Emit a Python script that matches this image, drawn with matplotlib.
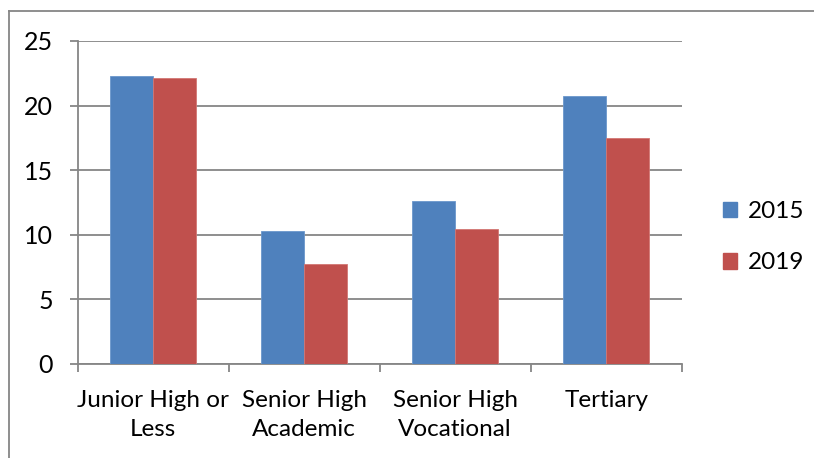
import numpy as np
import matplotlib.pyplot as plt
from matplotlib.patches import Patch
from matplotlib.lines import Line2D

plt.rcParams['font.family'] = ['Lato', 'DejaVu Sans']

categories = ['Junior High or\nLess', 'Senior High\nAcademic', 'Senior High\nVocational', 'Tertiary']
years = ['2015', '2019']
vals_2015 = [22.3, 10.3, 12.6, 20.7]
vals_2019 = [22.1, 7.7, 10.4, 17.5]

blue = '#4F81BD'
red = '#C0504D'
grid_col = '#868686'

fig = plt.figure(figsize=(8.14, 4.58), dpi=100)
ax = fig.add_axes([0.0955, 0.206, 0.742, 0.7045])

x = np.arange(len(categories))
w = 0.285
ax.bar(x - w / 2, vals_2015, w, color=blue, edgecolor='#6b97cc', linewidth=0.6, zorder=3)
ax.bar(x + w / 2, vals_2019, w, color=red, edgecolor='#d27673', linewidth=0.6, zorder=3)

ax.set_xlim(-0.5, len(categories) - 0.5)
ax.set_ylim(0, 25)
ax.set_yticks(np.arange(0, 26, 5))
ax.yaxis.grid(True, color=grid_col, linewidth=1.3, zorder=0)

ax.set_xticks(x)
ax.set_xticklabels(categories, fontsize=17.5, linespacing=1.45)
ax.set_xticks(np.arange(-0.5, len(categories), 1), minor=True)
ax.tick_params(axis='x', which='major', length=0, pad=19)
ax.tick_params(axis='x', which='minor', length=6, width=1.3, color=grid_col)
ax.tick_params(axis='y', length=6, width=1.3, color=grid_col, labelsize=18, pad=12)

for side in ['top', 'right']:
    ax.spines[side].set_visible(False)
for side in ['left', 'bottom']:
    ax.spines[side].set_color(grid_col)
    ax.spines[side].set_linewidth(1.3)

handles = [Patch(color=blue, label=years[0]), Patch(color=red, label=years[1])]
fig.legend(handles=handles, loc='center left', bbox_to_anchor=(0.876, 0.482),
           frameon=False, fontsize=17.5, handlelength=0.6, handleheight=0.6,
           handletextpad=0.45, labelspacing=1.25, borderaxespad=0)

# outer chart frame (left and top edges)
fig.add_artist(Line2D([0.0105, 0.0105], [0, 0.976], color=grid_col, linewidth=1.3))
fig.add_artist(Line2D([0.0105, 1.0], [0.976, 0.976], color=grid_col, linewidth=1.3))

fig.savefig('out.png', dpi=100)
